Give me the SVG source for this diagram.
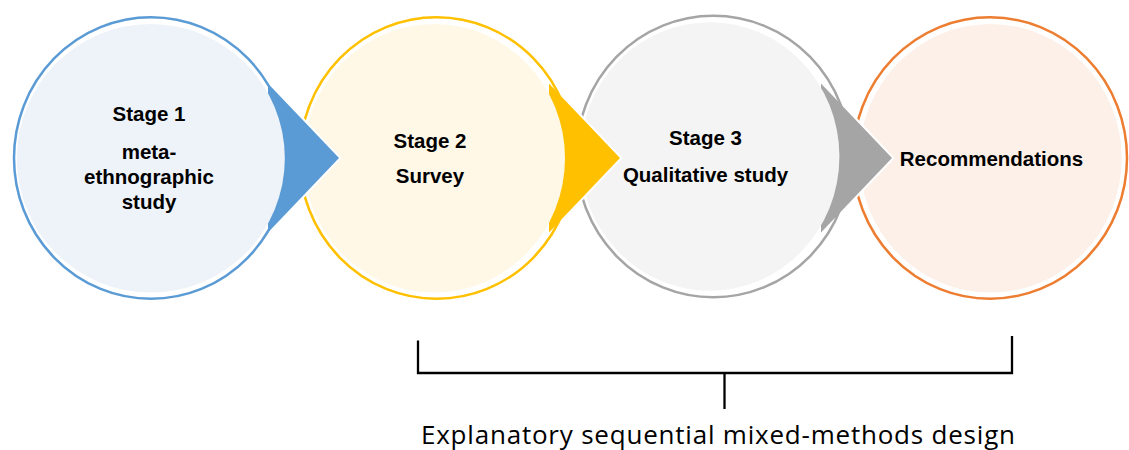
<svg xmlns="http://www.w3.org/2000/svg" width="1129" height="450" viewBox="0 0 1129 450">
  <style>
    .ring { fill: #ffffff; stroke-width: 2.5; }
    .label { font-family: "Liberation Sans", Arial, sans-serif; font-weight: bold; font-size: 20.5px; fill: #000000; text-anchor: middle; }
    .caption { font-family: "Open Sans", "Liberation Sans", sans-serif; font-size: 26px; fill: #000000; }
    .halo { fill: none; stroke: #ffffff; stroke-width: 4; stroke-linejoin: miter; }
    .bracket { fill: none; stroke: #000000; stroke-width: 2.3; }
  </style>
  <defs>
    <!-- each chevron sits under the inner disc of the stage it leaves -->
    <mask id="cut1" maskUnits="userSpaceOnUse" x="0" y="0" width="1129" height="450">
      <rect x="0" y="0" width="1129" height="450" fill="#fff"/>
      <ellipse cx="150.8" cy="158.3" rx="134" ry="134.3" fill="#000"/>
    </mask>
    <mask id="cut2" maskUnits="userSpaceOnUse" x="0" y="0" width="1129" height="450">
      <rect x="0" y="0" width="1129" height="450" fill="#fff"/>
      <ellipse cx="434.2" cy="158.3" rx="130.8" ry="134.3" fill="#000"/>
    </mask>
    <mask id="cut3" maskUnits="userSpaceOnUse" x="0" y="0" width="1129" height="450">
      <rect x="0" y="0" width="1129" height="450" fill="#fff"/>
      <ellipse cx="709.7" cy="156.5" rx="129.7" ry="134.3" fill="#000"/>
    </mask>
  </defs>

  <rect x="0" y="0" width="1129" height="450" fill="#ffffff"/>

  <!-- stages: outlined ring with an inset tinted disc -->
  <g id="stage1">
    <ellipse class="ring" cx="151" cy="158" rx="137" ry="140.75" stroke="#5B9BD5"/>
    <ellipse cx="150.8" cy="158.3" rx="134" ry="134.3" fill="#EEF3FA"/>
    <text class="label" x="149" y="121">Stage 1</text>
    <text class="label" x="149" y="159">meta-</text>
    <text class="label" x="149" y="184">ethnographic</text>
    <text class="label" x="149" y="209">study</text>
  </g>

  <g id="stage2">
    <ellipse class="ring" cx="436.6" cy="158" rx="137" ry="140.75" stroke="#FFC000"/>
    <ellipse cx="434.2" cy="158.3" rx="130.8" ry="134.3" fill="#FFF8E6"/>
    <text class="label" x="430" y="148">Stage 2</text>
    <text class="label" x="430" y="183">Survey</text>
  </g>

  <g id="stage3">
    <ellipse class="ring" cx="713.3" cy="156.5" rx="137" ry="140.75" stroke="#A5A5A5"/>
    <ellipse cx="709.7" cy="156.5" rx="129.7" ry="134.3" fill="#F4F4F4"/>
    <text class="label" x="705.5" y="145">Stage 3</text>
    <text class="label" x="705.5" y="182">Qualitative study</text>
  </g>

  <g id="recommendations">
    <ellipse class="ring" cx="990" cy="158" rx="137" ry="140.75" stroke="#ED7D31"/>
    <ellipse cx="990.5" cy="158.3" rx="131.2" ry="134.3" fill="#FDF0E8"/>
    <text class="label" x="991.5" y="166">Recommendations</text>
  </g>

  <!-- chevrons between stages; the white edge only shows over the next stage -->
  <g id="connectors">
    <g mask="url(#cut1)">
      <path class="halo" d="M290,106.5 L339,158 L290,209.5"/>
      <polygon points="268,83.45 339,158 268,232.55" fill="#5B9BD5"/>
    </g>
    <g mask="url(#cut2)">
      <path class="halo" d="M571,106.5 L620,158 L571,209.5"/>
      <polygon points="549,83.45 620,158 549,232.55" fill="#FFC000"/>
    </g>
    <g mask="url(#cut3)">
      <path class="halo" d="M843,106.5 L892,158 L843,209.5"/>
      <polygon points="821,83.45 892,158 821,232.55" fill="#A5A5A5"/>
    </g>
  </g>

  <!-- bracket spanning stages 2 to 4 -->
  <g id="bracket">
    <path class="bracket" d="M418,340.5 V373 H1012 V336"/>
    <path class="bracket" d="M724.5,373 V409"/>
    <text class="caption" x="421" y="443.5" textLength="594" lengthAdjust="spacing">Explanatory sequential mixed-methods design</text>
  </g>
</svg>
